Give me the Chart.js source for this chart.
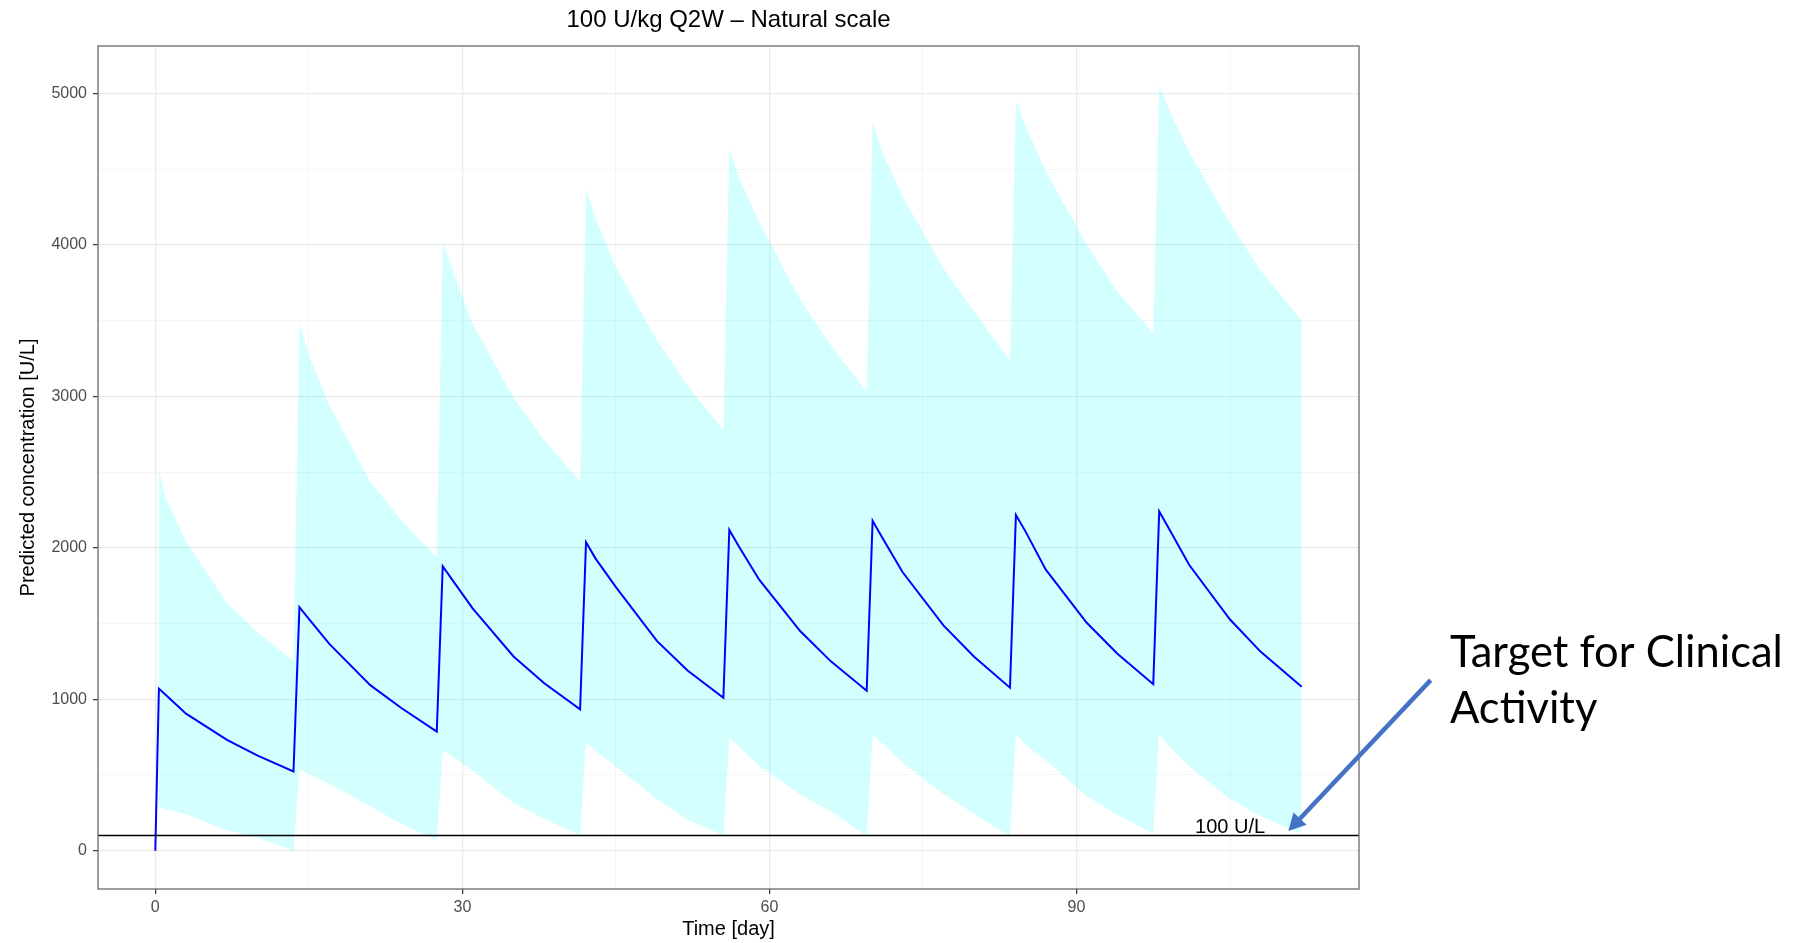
<!DOCTYPE html>
<html><head><meta charset="utf-8">
<script src="https://cdn.jsdelivr.net/npm/chart.js@4.4.1/dist/chart.umd.min.js"></script>
<style>html,body{margin:0;padding:0;background:#fff;}#wrap{width:1812px;height:943px;}</style>
</head><body><div id="wrap"><canvas id="c" width="1812" height="943"></canvas></div>
<script>
// ---- data ----
const days = [
  0, 0.35, 1, 3, 7, 10, 13.5,
  14.08, 15, 17, 21, 24, 27.5,
  28.08, 29, 31, 35, 38, 41.5,
  42.08, 43, 45, 49, 52, 55.5,
  56.08, 57, 59, 63, 66, 69.5,
  70.08, 71, 73, 77, 80, 83.5,
  84.08, 85, 87, 91, 94, 97.5,
  98.08, 99, 101, 105, 108, 112
];
const median = [
  0, 1070, 1030, 905, 732, 628, 523,
  1608, 1530, 1365, 1093, 944, 786,
  1878, 1790, 1600, 1282, 1105, 933,
  2036, 1930, 1740, 1385, 1190, 1010,
  2118, 2010, 1789, 1450, 1250, 1056,
  2178, 2070, 1840, 1487, 1280, 1076,
  2217, 2110, 1855, 1505, 1300, 1099,
  2240, 2130, 1888, 1526, 1313, 1082
];
const upper = [
  null, 2513, 2332, 2040, 1635, 1440, 1253,
  3484, 3270, 2941, 2438, 2184, 1937,
  4026, 3840, 3480, 2990, 2710, 2437,
  4365, 4180, 3850, 3370, 3070, 2776,
  4635, 4450, 4150, 3640, 3336, 3030,
  4806, 4620, 4322, 3845, 3560, 3237,
  4957, 4790, 4487, 4000, 3690, 3418,
  5056, 4900, 4615, 4141, 3829, 3500
];
const lower = [
  null, 286, 275, 240, 135, 85, 0,
  540, 507, 441, 293, 178, 69,
  661, 620, 530, 315, 211, 102,
  720, 660, 556, 342, 205, 102,
  747, 690, 560, 370, 260, 95,
  760, 711, 580, 375, 243, 95,
  770, 700, 595, 360, 235, 112,
  770, 690, 556, 342, 227, 112
];
const xMajorTicks = [0, 30, 60, 90];
const xMinorTicks = [15, 45, 75, 105];
const yMajorTicks = [0, 1000, 2000, 3000, 4000, 5000];
const yMinorTicks = [500, 1500, 2500, 3500, 4500];
const threshold = 100;
const thresholdLabel = '100 U/L';
const chartTitle = '100 U/kg Q2W \u2013 Natural scale';
const xTitle = 'Time [day]';
const yTitle = 'Predicted concentration [U/L]';
const noteLines = ['Target for Clinical', 'Activity'];

// ---- build ----
const pts = arr => days.map((d, i) => ({x: d, y: arr[i]})).filter(p => p.y !== null);
const FONT = "'Liberation Sans', Arial, Helvetica, sans-serif";

function gridOpts(majors) {
  const isMajor = ctx => ctx.tick && majors.includes(ctx.tick.value);
  return {
    color: ctx => isMajor(ctx) ? '#ebebeb' : '#f3f3f3',
    lineWidth: ctx => isMajor(ctx) ? 1.3 : 0.8,
    drawTicks: true,
    tickLength: 5,
    tickWidth: 1.2,
    tickColor: ctx => isMajor(ctx) ? '#333333' : 'rgba(0,0,0,0)'
  };
}

const overlay = {
  id: 'overlay',
  afterDraw(chart) {
    const {ctx, chartArea: a, scales: {x, y}} = chart;
    ctx.save();
    // threshold reference line
    const yp = y.getPixelForValue(threshold);
    ctx.strokeStyle = '#000'; ctx.lineWidth = 1.6;
    ctx.beginPath(); ctx.moveTo(a.left, yp); ctx.lineTo(a.right, yp); ctx.stroke();
    // threshold label
    ctx.fillStyle = '#000'; ctx.font = '20px ' + FONT;
    ctx.textAlign = 'center'; ctx.textBaseline = 'alphabetic';
    ctx.fillText(thresholdLabel, x.getPixelForValue(105), y.getPixelForValue(118));
    // panel border
    ctx.strokeStyle = '#6a6a6a'; ctx.lineWidth = 1.3;
    ctx.strokeRect(a.left, a.top, a.right - a.left, a.bottom - a.top);
    // plot title
    ctx.fillStyle = '#000'; ctx.font = '24px ' + FONT;
    ctx.textAlign = 'center'; ctx.textBaseline = 'middle';
    ctx.fillText(chartTitle, (a.left + a.right) / 2, 20);
    // arrow annotation
    const tx = x.getPixelForValue(124.6), ty = y.getPixelForValue(1126);
    const hx = x.getPixelForValue(110.7), hy = y.getPixelForValue(130);
    const dx = hx - tx, dy = hy - ty, L = Math.hypot(dx, dy);
    const ux = dx / L, uy = dy / L, headLen = 17, headW = 9;
    const bx = hx - ux * headLen, by = hy - uy * headLen;
    ctx.strokeStyle = '#4472C4'; ctx.fillStyle = '#4472C4'; ctx.lineWidth = 4.5;
    ctx.beginPath(); ctx.moveTo(tx, ty); ctx.lineTo(bx + ux * 2, by + uy * 2); ctx.stroke();
    ctx.beginPath();
    ctx.moveTo(hx, hy);
    ctx.lineTo(bx - uy * headW, by + ux * headW);
    ctx.lineTo(bx + uy * headW, by - ux * headW);
    ctx.closePath(); ctx.fill();
    // note text
    ctx.font = "100px Lato, 'Open Sans', sans-serif";
    const w = ctx.measureText(noteLines[0]).width;
    const size = 100 * 333 / w;
    ctx.font = size.toFixed(1) + "px Lato, 'Open Sans', sans-serif";
    ctx.fillStyle = '#000'; ctx.textAlign = 'left'; ctx.textBaseline = 'alphabetic';
    ctx.fillText(noteLines[0], 1450, 667);
    ctx.fillText(noteLines[1], 1450, 723);
    ctx.restore();
  }
};

new Chart(document.getElementById('c'), {
  type: 'line',
  data: {
    datasets: [
      {label: 'median', data: pts(median), borderColor: '#0000ff', borderWidth: 2,
       pointRadius: 0, fill: false, order: 0},
      {label: 'upper', data: pts(upper), borderColor: 'rgba(0,0,0,0)', borderWidth: 0,
       pointRadius: 0, fill: '+1', backgroundColor: 'rgba(0,255,255,0.17)', order: 1},
      {label: 'lower', data: pts(lower), borderColor: 'rgba(0,0,0,0)', borderWidth: 0,
       pointRadius: 0, fill: false, order: 1}
    ]
  },
  options: {
    responsive: false, animation: false, devicePixelRatio: 1,
    layout: {padding: {top: 46, right: 453, left: 0, bottom: 0}},
    elements: {line: {tension: 0}},
    plugins: {legend: {display: false}, tooltip: {enabled: false}, title: {display: false}},
    scales: {
      x: {
        type: 'linear', min: -5.6, max: 117.6,
        afterBuildTicks: s => { s.ticks = [...xMajorTicks, ...xMinorTicks].sort((a, b) => a - b).map(v => ({value: v})); },
        afterFit: s => { s.height = 54; },
        ticks: {autoSkip: false, maxRotation: 0, padding: 4, color: '#4d4d4d',
                font: {family: FONT, size: 16},
                callback: v => xMajorTicks.includes(v) ? String(v) : ''},
        grid: gridOpts(xMajorTicks),
        border: {display: false},
        title: {display: true, text: xTitle, color: '#000', font: {family: FONT, size: 20},
                padding: {top: 0, bottom: 2}}
      },
      y: {
        type: 'linear', min: -253, max: 5313,
        afterBuildTicks: s => { s.ticks = [...yMajorTicks, ...yMinorTicks].sort((a, b) => a - b).map(v => ({value: v})); },
        afterFit: s => { s.width = 98; },
        ticks: {autoSkip: false, padding: 6, color: '#4d4d4d',
                font: {family: FONT, size: 16},
                callback: v => yMajorTicks.includes(v) ? String(v) : ''},
        grid: gridOpts(yMajorTicks),
        border: {display: false},
        title: {display: true, text: yTitle, color: '#000', font: {family: FONT, size: 20},
                padding: {top: 16, bottom: 0}}
      }
    }
  },
  plugins: [overlay]
});
</script>
</body></html>
